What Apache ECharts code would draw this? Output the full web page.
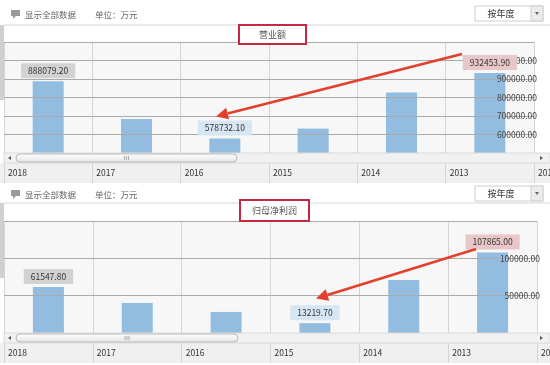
<!DOCTYPE html>
<html>
<head>
<meta charset="utf-8">
<script src="https://cdn.jsdelivr.net/npm/echarts@6/dist/echarts.min.js"></script>
<style>
  html, body { margin: 0; padding: 0; background: #fff; }
  #chart { width: 550px; height: 365px; }
</style>
</head>
<body>
<div id="chart"></div>
<script>
var years = ['2018', '2017', '2016', '2015', '2014', '2013'];
var axisYears = ['2018', '2017', '2016', '2015', '2014', '2013', '2012'];
var revenue = [888079.20, 684000, 578732.10, 632000, 827000, 932453.90];
var netProfit = [61547.80, 40200, 28200, 13219.70, 71000, 107865.00];
var revenueTitle = '营业额';
var profitTitle = '归母净利润';
var showAllText = '显示全部数据';
var unitText = '单位：万元';
var periodText = '按年度';

// which bars carry a value callout
var revenueCallouts = { 0: 'grey', 2: 'blue', 5: 'pink' };
var profitCallouts = { 0: 'grey', 3: 'blue', 5: 'pink' };

var FONT = "'Noto Sans CJK SC', 'Noto Sans', sans-serif";
var calloutColors = { grey: '#d2d2d2', blue: '#d6e7f3', pink: '#e9c6c8' };

var chart = echarts.init(document.getElementById('chart'));

// transparent twin of the bars, only carrying the callout labels (drawn above the y labels)
var buildCallouts = function (values, callouts) {
  return values.map(function (v, i) {
    if (!callouts[i]) return '-';
    return {
      value: v,
      label: {
        show: true,
        position: 'top',
        distance: 3,
        formatter: function (p) { return p.value.toFixed(2); },
        backgroundColor: calloutColors[callouts[i]],
        padding: [2, 7, 2, 7],
        lineHeight: 11,
        color: '#333',
        fontSize: 8.5,
        fontFamily: FONT
      }
    };
  });
};

// one red arrow, line plus head
var arrow = function (x1, y1, x2, y2) {
  var dx = x2 - x1, dy = y2 - y1;
  var len = Math.sqrt(dx * dx + dy * dy);
  var ux = dx / len, uy = dy / len;
  var bx = x2 - ux * 12, by = y2 - uy * 12;
  var nx = -uy * 6, ny = ux * 6;
  return [{
    type: 'line', z: 120,
    shape: { x1: x1, y1: y1, x2: bx, y2: by },
    style: { stroke: '#e2402c', lineWidth: 2.5 }
  }, {
    type: 'polygon', z: 120,
    shape: { points: [[x2, y2], [bx + nx, by + ny], [bx - nx, by - ny]] },
    style: { fill: '#e2402c' }
  }];
};

// header row, chart box, scrollbar and label strip of one panel
var panel = function (top, boxTop, plotBottom, thumbRight) {
  var els = [];
  // speech bubble icon
  els.push({ type: 'rect', z: 100, shape: { x: 11, y: top + 10, width: 9, height: 6 }, style: { fill: '#9a9a9a' } });
  els.push({ type: 'polygon', z: 100, shape: { points: [[13, top + 16], [16, top + 16], [13, top + 19]] }, style: { fill: '#9a9a9a' } });
  els.push({ type: 'text', z: 100, x: 25, y: top + 15, style: { text: showAllText, fill: '#666', fontSize: 8.5, fontFamily: FONT, verticalAlign: 'middle' } });
  els.push({ type: 'text', z: 100, x: 95, y: top + 15, style: { text: unitText, fill: '#666', fontSize: 8.5, fontFamily: FONT, verticalAlign: 'middle' } });
  // dropdown
  els.push({ type: 'rect', z: 100, shape: { x: 475, y: top + 6, width: 68, height: 15 }, style: { fill: '#fff', stroke: '#cfcfcf', lineWidth: 1 } });
  els.push({ type: 'rect', z: 100, shape: { x: 531, y: top + 6, width: 12, height: 15 }, style: { fill: '#ececec', stroke: '#cfcfcf', lineWidth: 1 } });
  els.push({ type: 'polygon', z: 101, shape: { points: [[535, top + 12], [539, top + 12], [537, top + 15]] }, style: { fill: '#666' } });
  els.push({ type: 'text', z: 101, x: 501, y: top + 14, style: { text: periodText, fill: '#333', fontSize: 9, fontFamily: FONT, align: 'center', verticalAlign: 'middle' } });
  // chart box top line and page scrollbar at left
  els.push({ type: 'line', z: 1, shape: { x1: 4, y1: boxTop, x2: 550, y2: boxTop }, style: { stroke: '#d6d6d6', lineWidth: 1 } });
  els.push({ type: 'rect', z: 1, shape: { x: 0, y: boxTop, width: 4, height: 75 }, style: { fill: '#d0d0d0' } });
  // label strip under the scrollbar
  els.push({ type: 'rect', z: -10, shape: { x: 0, y: plotBottom + 10, width: 550, height: 20 }, style: { fill: '#f0f0f0' } });
  // scrollbar
  els.push({ type: 'rect', z: 110, shape: { x: 4, y: plotBottom, width: 546, height: 10 }, style: { fill: '#f1f1f1', stroke: '#dadada', lineWidth: 1 } });
  els.push({ type: 'rect', z: 111, shape: { x: 16, y: plotBottom + 1, width: thumbRight - 16, height: 8, r: 4 },
    style: { fill: new echarts.graphic.LinearGradient(0, 0, 0, 1, [{ offset: 0, color: '#ffffff' }, { offset: 1, color: '#e4e4e4' }]), stroke: '#b9b9b9', lineWidth: 1 } });
  var gx = (16 + thumbRight) / 2;
  for (var k = -1; k <= 1; k++) {
    els.push({ type: 'line', z: 112, shape: { x1: gx + k * 2, y1: plotBottom + 3, x2: gx + k * 2, y2: plotBottom + 7 }, style: { stroke: '#aaa', lineWidth: 1 } });
  }
  els.push({ type: 'polygon', z: 112, shape: { points: [[8, plotBottom + 5], [11, plotBottom + 3], [11, plotBottom + 7]] }, style: { fill: '#555' } });
  els.push({ type: 'polygon', z: 112, shape: { points: [[543, plotBottom + 5], [540, plotBottom + 3], [540, plotBottom + 7]] }, style: { fill: '#555' } });
  return els;
};

var yLabel = function (lo, hi) {
  return function (v) { return (v <= lo || v >= hi) ? '' : v.toFixed(2); };
};

var catAxis = function (gridIndex) {
  return {
    type: 'category', gridIndex: gridIndex, data: years, boundaryGap: true,
    axisLine: { show: true, lineStyle: { color: '#c8c8c8' } },
    axisTick: { show: true, length: 30, interval: 0, lineStyle: { color: '#d4d4d4' } },
    axisLabel: { show: false },
    splitLine: { show: true, interval: 0, lineStyle: { color: '#d4d4d4' } }
  };
};

var yearAxis = function (gridIndex) {
  return {
    type: 'value', gridIndex: gridIndex, min: 0, max: 6, interval: 1, position: 'bottom',
    axisLine: { show: false }, axisTick: { show: false }, splitLine: { show: false },
    axisLabel: {
      margin: 16, align: 'left', padding: [0, 0, 0, 4],
      color: '#333', fontSize: 8.5, fontFamily: FONT,
      formatter: function (v) { return axisYears[v]; }
    }
  };
};

var valAxis = function (gridIndex, min, max, interval) {
  return {
    type: 'value', gridIndex: gridIndex, position: 'right', min: min, max: max, interval: interval, z: 3,
    axisLine: { show: false }, axisTick: { show: false },
    axisLabel: { inside: true, margin: -3, color: '#444', fontSize: 8.5, fontFamily: FONT, formatter: yLabel(min, max) },
    splitLine: { show: true, lineStyle: { color: '#ababab' } }
  };
};

var graphics = []
  .concat(panel(0, 25, 153, 237))
  .concat(panel(180, 203, 333, 238))
  .concat(arrow(462, 54, 216, 116.5))
  .concat(arrow(476, 249, 316, 298.5));

var option = {
  animation: false,
  backgroundColor: '#fff',
  title: [{
    text: revenueTitle, left: 239, top: 25,
    padding: [4, 20, 4, 20], backgroundColor: '#fff', borderColor: '#c4293f', borderWidth: 2,
    textStyle: { fontSize: 9, fontWeight: 'normal', color: '#555', fontFamily: FONT, lineHeight: 11 }
  }, {
    text: profitTitle, left: 240, top: 200,
    padding: [5, 12, 5, 12], backgroundColor: '#fff', borderColor: '#c4293f', borderWidth: 2,
    textStyle: { fontSize: 9, fontWeight: 'normal', color: '#555', fontFamily: FONT, lineHeight: 11 }
  }],
  grid: [
    { left: 4, right: 16, top: 42, height: 111, show: true, backgroundColor: '#f7f7f7', borderWidth: 0, outerBoundsMode: 'none' },
    { left: 4, right: 13, top: 221, height: 112, show: true, backgroundColor: '#f7f7f7', borderWidth: 0, outerBoundsMode: 'none' }
  ],
  xAxis: [catAxis(0), yearAxis(0), catAxis(1), yearAxis(1)],
  yAxis: [valAxis(0, 500000, 1100000, 100000), valAxis(1, 0, 150000, 50000)],
  series: [{
    name: revenueTitle, type: 'bar', xAxisIndex: 0, yAxisIndex: 0, barWidth: 31, z: 2,
    itemStyle: { color: '#93bde0' },
    data: revenue
  }, {
    type: 'bar', xAxisIndex: 0, yAxisIndex: 0, barWidth: 31, barGap: '-100%', z: 5,
    itemStyle: { color: 'transparent' }, silent: true,
    data: buildCallouts(revenue, revenueCallouts)
  }, {
    name: profitTitle, type: 'bar', xAxisIndex: 2, yAxisIndex: 1, barWidth: 31, z: 2,
    itemStyle: { color: '#93bde0' },
    data: netProfit
  }, {
    type: 'bar', xAxisIndex: 2, yAxisIndex: 1, barWidth: 31, barGap: '-100%', z: 5,
    itemStyle: { color: 'transparent' }, silent: true,
    data: buildCallouts(netProfit, profitCallouts)
  }],
  graphic: graphics
};

chart.setOption(option);
</script>
</body>
</html>
